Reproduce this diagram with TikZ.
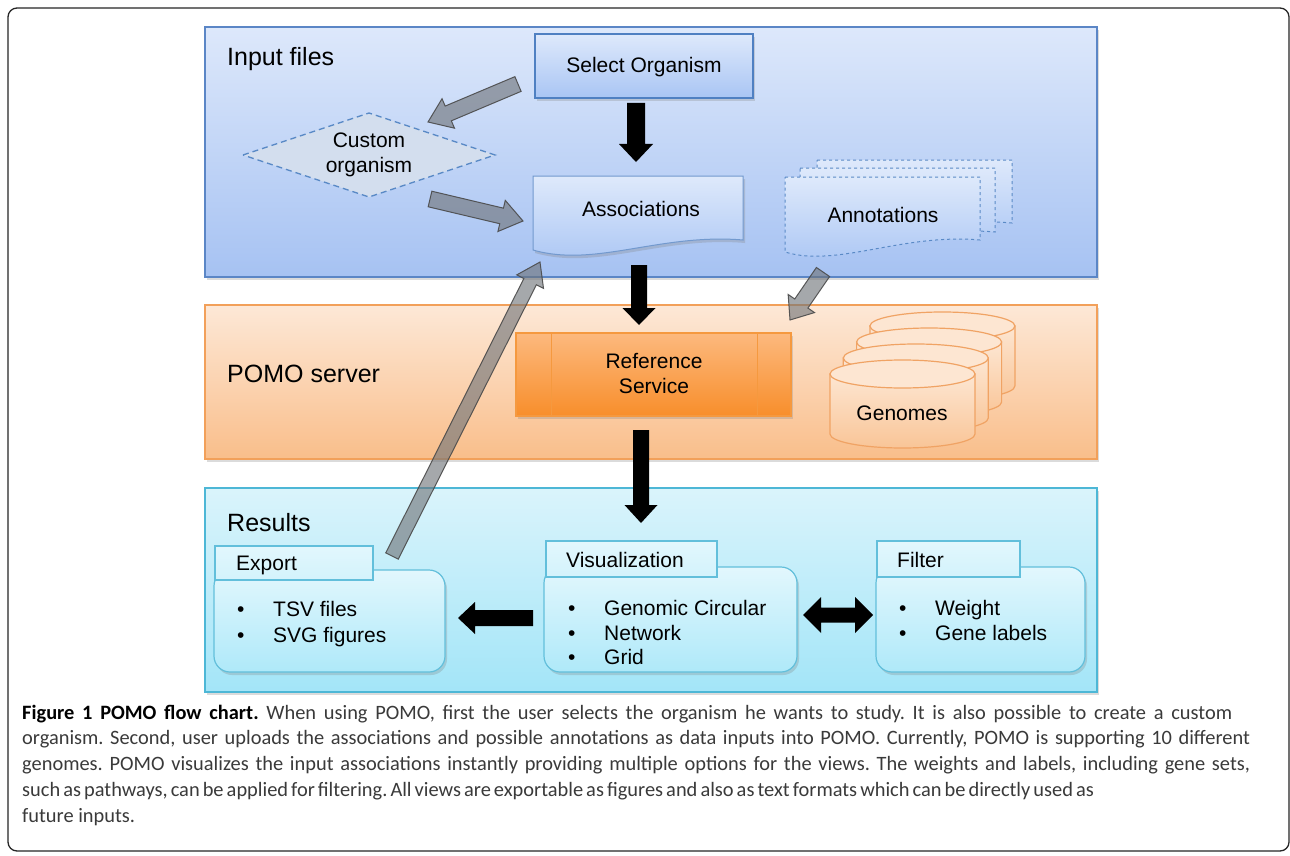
\documentclass[tikz,border=0pt]{standalone}
\usepackage{fontspec}
\setmainfont{Liberation Sans}
\newfontfamily\capfont{Carlito}
\usetikzlibrary{calc,shadows}
\definecolor{bluebd}{HTML}{5B86C6}
\definecolor{bluetop}{HTML}{DDE8FB}
\definecolor{bluebot}{HTML}{A6C2F2}
\definecolor{boxbd}{HTML}{4F80C2}
\definecolor{boxtop}{HTML}{DEE9FB}
\definecolor{boxbot}{HTML}{A9C5F4}
\definecolor{dashbd}{HTML}{5A8AC6}
\definecolor{diafill}{HTML}{D3DEEE}
\definecolor{orbd}{HTML}{F2A05A}
\definecolor{ortop}{HTML}{FDE8D7}
\definecolor{orbot}{HTML}{F9BE8A}
\definecolor{reftop}{HTML}{FCB97E}
\definecolor{refbot}{HTML}{F88E2B}
\definecolor{refbd}{HTML}{F5993F}
\definecolor{cyltop}{HTML}{FDE6D2}
\definecolor{cylbot}{HTML}{F9C597}
\definecolor{cylbd}{HTML}{F0A364}
\definecolor{cybd}{HTML}{4DB7D6}
\definecolor{cytop}{HTML}{DAF4FB}
\definecolor{cybot}{HTML}{A3E5F8}
\definecolor{rbtop}{HTML}{E2F7FD}
\definecolor{rbbot}{HTML}{AFE9F9}
\definecolor{rbbd}{HTML}{62BFDB}
\definecolor{capgray}{HTML}{3A3A3A}
\definecolor{arrgray}{HTML}{6F7378}
\definecolor{arrbd}{HTML}{4A4A4A}

\newcommand\BArrow[6]{%
  \coordinate (bah) at ($#3!#6!#2$);
  \path[#1] ($#2!#4!90:#3$) -- ($(bah)!#4!90:#3$) -- ($(bah)!#5!90:#3$) -- #3
    -- ($(bah)!#5!-90:#3$) -- ($(bah)!#4!-90:#3$) -- ($#2!#4!-90:#3$) -- cycle;}
\newcommand\DArrow[6]{%
  \coordinate (dah) at ($#3!#6!#2$);
  \coordinate (dat) at ($#2!#6!#3$);
  \path[#1] #2 -- ($(dat)!#5!90:#3$) -- ($(dat)!#4!90:#3$) -- ($(dah)!#4!90:#3$)
    -- ($(dah)!#5!90:#3$) -- #3 -- ($(dah)!#5!-90:#3$) -- ($(dah)!#4!-90:#3$)
    -- ($(dat)!#4!-90:#3$) -- ($(dat)!#5!-90:#3$) -- cycle;}

\tikzset{
  shd/.style={drop shadow={opacity=0.28, shadow xshift=2pt, shadow yshift=-3pt}},
  panelblue/.style={draw=bluebd, line width=1.2pt, top color=bluetop, bottom color=bluebot, shd},
  panelor/.style={draw=orbd, line width=1.2pt, top color=ortop, bottom color=orbot, shd},
  panelcy/.style={draw=cybd, line width=1.2pt, top color=cytop, bottom color=cybot, shd},
  selbox/.style={draw=boxbd, line width=1.2pt, top color=boxtop, bottom color=boxbot, shd},
  docbox/.style={draw=boxbd!80, line width=1pt, top color=boxtop, bottom color=boxbot, shd},
  annbox/.style={draw=dashbd, dashed, line width=1pt, top color=boxtop, bottom color=boxbot},
  diabox/.style={draw=dashbd, dash pattern=on 6pt off 4pt, line width=1.4pt, fill=diafill},
  refbox/.style={draw=refbd, line width=1.2pt, top color=reftop, bottom color=refbot, shd},
  cylbox/.style={draw=cylbd, line width=1.2pt, top color=cyltop, bottom color=cylbot},
  cyltopst/.style={draw=cylbd, line width=1.2pt, fill=cyltop},
  rbody/.style={draw=rbbd, line width=1.2pt, top color=rbtop, bottom color=rbbot, rounded corners=16pt, shd},
  rtab/.style={draw=rbbd, line width=1.2pt, top color=rbtop, bottom color=rbtop!70!rbbot},
  txt/.style={font=\fontsize{21}{25}\selectfont, text=black, inner sep=0pt},
  lbl/.style={font=\fontsize{25}{29}\selectfont, text=black, inner sep=0pt, anchor=base west},
  bul/.style={font=\fontsize{21}{25}\selectfont, text=black, inner sep=0pt, anchor=base west},
  blackarr/.style={fill=black},
  grayarr/.style={fill=arrgray, fill opacity=0.62, draw=arrbd, draw opacity=0.9, line width=1pt},
  captxt/.style={font=\capfont\fontsize{20.4}{24}\selectfont\frenchspacing, text=capgray, inner sep=0pt, anchor=base west},
}

\begin{document}
\begin{tikzpicture}[x=1pt,y=-1pt]
\useasboundingbox (0,0) rectangle (1290,856);
\fill[white] (0,0) rectangle (1290,856);

% outer frame
\draw[line width=1.3pt, black!85, rounded corners=9pt] (8,8) rectangle (1289,851);

% panels
\path[panelblue] (205,27) rectangle (1097,277);
\path[panelor] (205,305) rectangle (1097,459);
\path[panelcy] (205,488) rectangle (1097,692);

\node[lbl] (lin) at (227,66) {Input files};
\node[lbl] (lsrv) at (227,382) {POMO server};
\node[lbl] (lres) at (227,531) {Results};

% Select organism
\path[selbox] (535,34) rectangle (753,98);
\node[txt] (sel) at (644,67) {Select Organism};

% Custom organism diamond
\path[diabox] (243,155) -- (369,113) -- (495,155) -- (369,197) -- cycle;
\node[txt, align=center, font=\fontsize{21}{24.5}\selectfont] (cust) at (369,155) {Custom\\organism};

% Associations document
\path[docbox] (533,176) -- (743,176) -- (743,240) .. controls (660,233) and (595,268) .. (533,250) -- cycle;
\node[txt] (assoc) at (641,209) {Associations};

% Annotations multi-document
\path[annbox] (817,160) -- (1012,160) -- (1012,223) .. controls (934,216) and (869,251) .. (817,235) -- cycle;
\path[annbox] (800,168) -- (995,168) -- (995,232) .. controls (917,225) and (852,260) .. (800,244) -- cycle;
\path[annbox] (785,177) -- (980,177) -- (980,240) .. controls (902,233) and (837,268) .. (785,252) -- cycle;
\node[txt] (annot) at (883,215) {Annotations};

% Reference service
\path[refbox] (516,333) rectangle (791,416);
\draw[refbd, line width=1pt] (551,333) -- (551,416) (757,333) -- (757,416);
\node[txt, align=center, font=\fontsize{21}{25}\selectfont] (ref) at (654,374) {Reference\\Service};

% Genomes cylinders
\foreach \dx/\dy in {39.9/-48, 26.6/-32, 13.3/-16, 0/0}{
  \path[cylbox] (830+\dx,374+\dy) -- (830+\dx,434+\dy)
     arc[start angle=180, end angle=0, x radius=72.5, y radius=14] -- (975+\dx,374+\dy) -- cycle;
  \path[cyltopst] (902.5+\dx,374+\dy) ellipse [x radius=72.5, y radius=14];
}
\node[txt] (gen) at (902,413) {Genomes};

% Results boxes
\path[rbody] (214,570) rectangle (445,672);
\path[rtab] (215,546) rectangle (373,580);
\node[bul] (exp) at (236,570.5) {Export};
\node[bul] (e1) at (237,616) {\textbullet};
\node[bul] (e1t) at (273,616) {TSV files};
\node[bul] (e2) at (237,642) {\textbullet};
\node[bul] (e2t) at (273,642) {SVG figures};

\path[rbody] (544,567) rectangle (797,672);
\path[rtab] (546,541) rectangle (717,577);
\node[bul] (vis) at (566,567.5) {Visualization};
\node[bul] (v1) at (568,615) {\textbullet};
\node[bul] (v1t) at (604,615) {Genomic Circular};
\node[bul] (v2) at (568,640) {\textbullet};
\node[bul] (v2t) at (604,640) {Network};
\node[bul] (v3) at (568,664) {\textbullet};
\node[bul] (v3t) at (604,664) {Grid};

\path[rbody] (876,567) rectangle (1085,672);
\path[rtab] (877,541) rectangle (1020,577);
\node[bul] (filt) at (897,567.5) {Filter};
\node[bul] (f1) at (899,615) {\textbullet};
\node[bul] (f1t) at (935,615) {Weight};
\node[bul] (f2) at (899,640) {\textbullet};
\node[bul] (f2t) at (935,640) {Gene labels};

% connector end points
\coordinate (a1s) at (636,103); \coordinate (a1e) at (636,162);
\coordinate (a2s) at (639,265); \coordinate (a2e) at (639,325);
\coordinate (a3s) at (641,430); \coordinate (a3e) at (641,523);
\coordinate (a4s) at (533,618); \coordinate (a4e) at (458,618);
\coordinate (a5s) at (803,615); \coordinate (a5e) at (873,615);
\coordinate (g1s) at (518,84);  \coordinate (g1e) at (428,122);
\coordinate (g2s) at (430,199); \coordinate (g2e) at (523,221);
\coordinate (g3s) at (823,272); \coordinate (g3e) at (790,320);
\coordinate (g4s) at (392,556); \coordinate (g4e) at (540,262);

% black arrows
\BArrow{blackarr}{(a1s)}{(a1e)}{9pt}{17pt}{18pt}
\BArrow{blackarr}{(a2s)}{(a2e)}{8pt}{16.5pt}{17pt}
\BArrow{blackarr}{(a3s)}{(a3e)}{8pt}{16.5pt}{18pt}
\BArrow{blackarr}{(a4s)}{(a4e)}{8pt}{16pt}{17pt}
\DArrow{blackarr}{(a5s)}{(a5e)}{7.5pt}{18pt}{18pt}

% gray arrows
\BArrow{grayarr}{(g1s)}{(g1e)}{8pt}{16pt}{22pt}
\BArrow{grayarr}{(g2s)}{(g2e)}{8pt}{16pt}{22pt}
\BArrow{grayarr}{(g3s)}{(g3e)}{8pt}{16pt}{20pt}
\BArrow{grayarr}{(g4s)}{(g4e)}{7pt}{15pt}{22pt}

% caption
\node[captxt] (cap1) at (22,719) {\hbox to 1210pt{\textbf{\color{black}Figure 1 POMO flow chart.} When using POMO, first the user selects the organism he wants to study. It is also possible to create a custom}};
\node[captxt] (cap2) at (22,744) {\hbox to 1228pt{organism. Second, user uploads the associations and possible annotations as data inputs into POMO. Currently, POMO is supporting 10 different}};
\node[captxt] (cap3) at (22,770) {\hbox to 1228pt{genomes. POMO visualizes the input associations instantly providing multiple options for the views. The weights and labels, including gene sets,}};
\node[captxt] (cap4) at (22,796) {\hbox to 1058pt{such as pathways, can be applied for filtering. All views are exportable as figures and also as text formats which can be directly used as}};
\node[captxt] (cap5) at (22,822) {future inputs.};
\end{tikzpicture}
\end{document}
